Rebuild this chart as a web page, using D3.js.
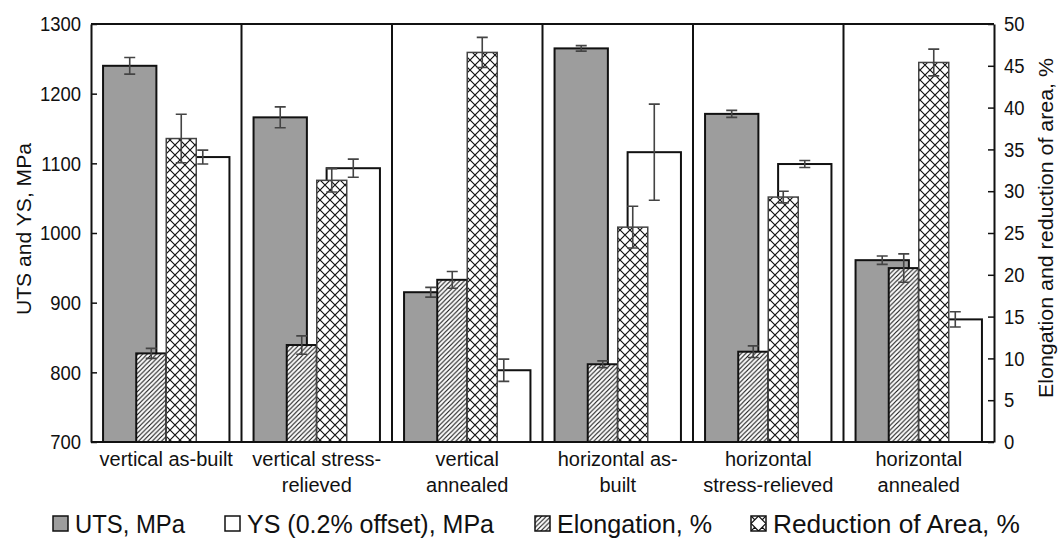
<!DOCTYPE html>
<html>
<head>
<meta charset="utf-8">
<script src="https://cdn.jsdelivr.net/npm/d3@7"></script>
<style>
  html, body { margin: 0; padding: 0; background: #fff; }
  svg text { font-family: "Liberation Sans", Arial, sans-serif; fill: #111; }
</style>
</head>
<body>
<svg id="chart" width="1059" height="540"></svg>
<script>
// Tensile properties by build orientation and heat treatment
const categories = [
  ["vertical as-built"],
  ["vertical stress-", "relieved"],
  ["vertical", "annealed"],
  ["horizontal as-", "built"],
  ["horizontal", "stress-relieved"],
  ["horizontal", "annealed"]
];
const utsValues = [1240, 1166, 915, 1265, 1171, 961];
const utsErrors = [12, 15, 7, 4, 5, 6];
const ysValues = [1109, 1093, 803, 1116, 1099, 876];
const ysErrors = [10, 13, 16, 69, 5, 11];
const elongValues = [10.6, 11.6, 19.4, 9.3, 10.8, 20.8];
const elongErrors = [0.6, 1.1, 1.0, 0.4, 0.7, 1.7];
const roaValues = [36.3, 31.3, 46.6, 25.7, 29.3, 45.4];
const roaErrors = [2.9, 1.4, 1.8, 2.5, 0.7, 1.6];
const leftTicks = [700, 800, 900, 1000, 1100, 1200, 1300];
const rightTicks = [0, 5, 10, 15, 20, 25, 30, 35, 40, 45, 50];
const legendLabels = ["UTS, MPa", "YS (0.2% offset), MPa", "Elongation, %", "Reduction of Area, %"];

const svg = d3.select("#chart");
const plotLeft = 91, plotRight = 994, plotTop = 24, plotBottom = 442;
const narrow = 0.88; // horizontal squeeze applied to tick labels

const keys = categories.map((c, i) => i);
const x0 = d3.scaleBand().domain(keys).range([plotLeft, plotRight]).padding(0);
const gw = x0.bandwidth();
const xPrimary = d3.scaleBand().domain(["uts", "ys"]).range([0, gw]).paddingInner(0.27).paddingOuter(0.165);
const xSecondary = d3.scaleBand().domain(["elong", "roa"]).range([0, gw]).paddingInner(0).paddingOuter(1.508);
const yL = d3.scaleLinear().domain([700, 1300]).range([plotBottom, plotTop]);
const yR = d3.scaleLinear().domain([0, 50]).range([plotBottom, plotTop]);

// hatch patterns
const defs = svg.append("defs");
const diag = defs.append("pattern").attr("id", "diag").attr("patternUnits", "userSpaceOnUse")
  .attr("width", 4.6).attr("height", 4.6);
diag.append("rect").attr("width", 4.6).attr("height", 4.6).attr("fill", "#fff");
diag.append("path").attr("d", "M-1,5.6 L5.6,-1 M-1,1 L1,-1 M3.6,5.6 L5.6,3.6")
  .attr("stroke", "#111").attr("stroke-width", 1.1);
const cross = defs.append("pattern").attr("id", "cross").attr("patternUnits", "userSpaceOnUse")
  .attr("width", 10).attr("height", 10);
cross.append("rect").attr("width", 10).attr("height", 10).attr("fill", "#fff");
cross.append("path").attr("d", "M0,0 L10,10 M10,0 L0,10")
  .attr("stroke", "#111").attr("stroke-width", 1.2);
const crossKey = defs.append("pattern").attr("id", "crossKey").attr("patternUnits", "objectBoundingBox")
  .attr("patternContentUnits", "objectBoundingBox").attr("width", 1).attr("height", 1);
crossKey.append("rect").attr("width", 1).attr("height", 1).attr("fill", "#fff");
crossKey.append("path").attr("d", "M0,0.5 L0.5,0 L1,0.5 L0.5,1 Z M0,0 L0.25,0.25 M1,0 L0.75,0.25 M0,1 L0.25,0.75 M1,1 L0.75,0.75")
  .attr("fill", "none").attr("stroke", "#111").attr("stroke-width", 0.08);

// frame: top line and group separators
svg.append("line").attr("x1", plotLeft).attr("x2", plotRight).attr("y1", plotTop).attr("y2", plotTop)
  .attr("stroke", "#111").attr("stroke-width", 2);
keys.slice(1).forEach(k => {
  svg.append("line").attr("x1", x0(k)).attr("x2", x0(k)).attr("y1", plotTop).attr("y2", plotBottom)
    .attr("stroke", "#111").attr("stroke-width", 2);
});

function bars(values, xs, key, y, fill, stroke, sw) {
  svg.append("g").selectAll("rect").data(values).join("rect")
    .attr("x", (d, i) => x0(i) + xs(key))
    .attr("width", xs.bandwidth())
    .attr("y", d => y(d))
    .attr("height", d => plotBottom - y(d))
    .attr("fill", fill)
    .attr("stroke", stroke).attr("stroke-width", sw);
}
bars(utsValues, xPrimary, "uts", yL, "#9d9d9d", "#111", 2);
bars(ysValues, xPrimary, "ys", yL, "#fff", "#111", 2);
bars(elongValues, xSecondary, "elong", yR, "url(#diag)", "#111", 2);
bars(roaValues, xSecondary, "roa", yR, "url(#cross)", "#444", 1.5);

function errors(values, errs, xs, key, y) {
  const g = svg.append("g").attr("stroke", "#444").attr("stroke-width", 1.6).attr("fill", "none");
  values.forEach((v, i) => {
    const cx = x0(i) + xs(key) + xs.bandwidth() / 2;
    const y1 = y(v + errs[i]), y2 = y(v - errs[i]);
    g.append("path").attr("d", `M${cx},${y1}V${y2}M${cx - 5.5},${y1}H${cx + 5.5}M${cx - 5.5},${y2}H${cx + 5.5}`);
  });
}
errors(utsValues, utsErrors, xPrimary, "uts", yL);
errors(ysValues, ysErrors, xPrimary, "ys", yL);
errors(elongValues, elongErrors, xSecondary, "elong", yR);
errors(roaValues, roaErrors, xSecondary, "roa", yR);

// axes, ticks pointing into the plot
const axL = svg.append("g").attr("transform", `translate(${plotLeft},0)`)
  .call(d3.axisLeft(yL).tickValues(leftTicks).tickSizeInner(-6).tickSizeOuter(0).tickPadding(10).tickFormat(d3.format("d")));
const axR = svg.append("g").attr("transform", `translate(${plotRight},0)`)
  .call(d3.axisRight(yR).tickValues(rightTicks).tickSizeInner(-6).tickSizeOuter(0).tickPadding(10).tickFormat(d3.format("d")));
[axL, axR].forEach(a => {
  a.select(".domain").attr("stroke", "#111").attr("stroke-width", 2);
  a.selectAll(".tick line").attr("stroke", "#111").attr("stroke-width", 1.5);
  a.selectAll(".tick text").style("font-size", "21px").attr("fill", "#111")
    .attr("x", function () { return +d3.select(this).attr("x") / narrow; })
    .attr("transform", `scale(${narrow},1)`);
});
svg.append("line").attr("x1", plotLeft).attr("x2", plotRight).attr("y1", plotBottom).attr("y2", plotBottom)
  .attr("stroke", "#111").attr("stroke-width", 2);

// axis titles
svg.append("text").attr("transform", "translate(31,229) rotate(-90)")
  .attr("text-anchor", "middle").style("font-size", "21px")
  .attr("textLength", 172).attr("lengthAdjust", "spacingAndGlyphs").text("UTS and YS, MPa");
svg.append("text").attr("transform", "translate(1053,228) rotate(-90)")
  .attr("text-anchor", "middle").style("font-size", "21px")
  .attr("textLength", 340).attr("lengthAdjust", "spacingAndGlyphs").text("Elongation and reduction of area, %");

// category labels
categories.forEach((lines, i) => {
  const t = svg.append("text").attr("text-anchor", "middle").style("font-size", "20px");
  lines.forEach((ln, j) => {
    t.append("tspan").attr("x", x0(i) + gw / 2).attr("y", 466 + j * 26).text(ln);
  });
});

// legend
const legendX = [53, 225, 535, 751];
const legendW = [110, 247, 155, 247];
const legendFill = ["#9d9d9d", "#fff", "url(#diag)", "url(#crossKey)"];
legendLabels.forEach((lab, i) => {
  svg.append("rect").attr("x", legendX[i]).attr("y", 516).attr("width", 15).attr("height", 15)
    .attr("fill", legendFill[i]).attr("stroke", "#111").attr("stroke-width", 1.5);
  svg.append("text").attr("x", legendX[i] + 22).attr("y", 533).style("font-size", "25px")
    .attr("textLength", legendW[i]).attr("lengthAdjust", "spacingAndGlyphs").text(lab);
});
</script>
</body>
</html>
